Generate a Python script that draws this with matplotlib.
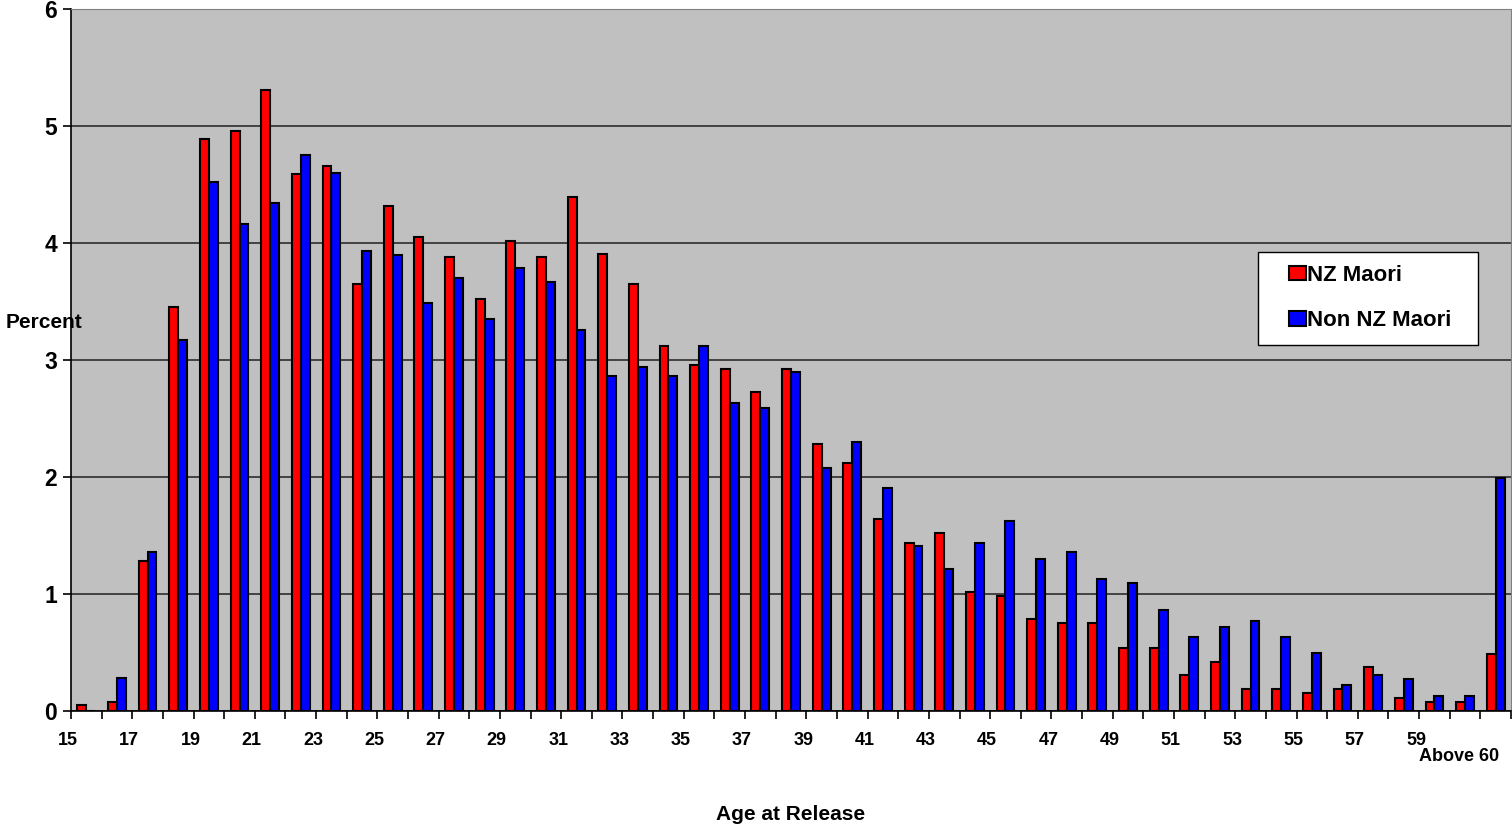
import matplotlib.pyplot as plt
from matplotlib.patches import Rectangle
import numpy as np

plt.rcParams['font.family'] = ['Liberation Sans', 'DejaVu Sans']
plt.rcParams['font.weight'] = 'bold'

# categorias: 15..60 y "Above 60"
categorias = [str(a) for a in range(15, 61)] + ['Above 60']

nz_maori = [0.05, 0.08, 1.28, 3.45, 4.89, 4.96, 5.31, 4.59, 4.66, 3.65,
            4.32, 4.05, 3.88, 3.52, 4.02, 3.88, 4.39, 3.91, 3.65, 3.12,
            2.96, 2.92, 2.73, 2.92, 2.28, 2.12, 1.64, 1.44, 1.52, 1.02,
            0.98, 0.79, 0.75, 0.75, 0.54, 0.54, 0.31, 0.42, 0.19, 0.19,
            0.15, 0.19, 0.38, 0.11, 0.08, 0.08, 0.49]
non_nz_maori = [0.0, 0.28, 1.36, 3.17, 4.52, 4.16, 4.34, 4.75, 4.60, 3.93,
                3.90, 3.49, 3.70, 3.35, 3.79, 3.67, 3.26, 2.86, 2.94, 2.86,
                3.12, 2.63, 2.59, 2.90, 2.08, 2.30, 1.91, 1.41, 1.21, 1.44,
                1.62, 1.30, 1.36, 1.13, 1.09, 0.86, 0.63, 0.72, 0.77, 0.63,
                0.50, 0.22, 0.31, 0.27, 0.13, 0.13, 1.99]

x = np.arange(len(categorias))
w = 0.29

fig = plt.figure(figsize=(15.12, 8.27), dpi=100)
ax = fig.add_axes([71 / 1512, 1 - 711 / 827, 1440 / 1512, 702 / 827])
ax.set_facecolor('#C0C0C0')

ax.bar(x - w / 2, nz_maori, width=w, color='#FF0000', edgecolor='black',
       linewidth=1.5, label='NZ Maori', zorder=3)
ax.bar(x + w / 2, non_nz_maori, width=w, color='#0000FF', edgecolor='black',
       linewidth=1.5, label='Non NZ Maori', zorder=3)

ax.set_xlim(-0.5, len(categorias) - 0.5)
ax.set_ylim(0, 6)
ax.set_yticks(range(0, 7))
ax.yaxis.grid(True, color='#202020', linewidth=1.1, zorder=1)
ax.tick_params(axis='y', labelsize=16.5, length=6, width=1.2, direction='out', pad=4)

# marcas en los limites de categoria, etiquetas aparte
ax.set_xticks(np.arange(len(categorias) + 1) - 0.5)
ax.set_xticklabels([])
ax.tick_params(axis='x', length=6, width=1.2, direction='out')
for i, lab in enumerate(categorias):
    if i % 2 == 0 and i < len(categorias) - 1:
        ax.text(i - 0.6, -0.18, lab, ha='center', va='top', fontsize=13,
                fontweight='bold')
ax.text(len(categorias) - 2.2, -0.32, categorias[-1], ha='center', va='top',
        fontsize=13, fontweight='bold')

for s in ['top', 'right']:
    ax.spines[s].set_color('#808080')
for s in ['left', 'bottom']:
    ax.spines[s].set_color('black')
    ax.spines[s].set_linewidth(1.2)

fig.text(6 / 1512, 1 - 322 / 827, 'Percent', ha='left', va='center',
         fontsize=15, fontweight='bold')
fig.text(791 / 1512, 1 - 814 / 827, 'Age at Release', ha='center',
         va='center', fontsize=15, fontweight='bold')

# caja de la leyenda
fig.patches.append(Rectangle((1258 / 1512, 1 - 345 / 827), 220 / 1512, 93 / 827,
                             transform=fig.transFigure, facecolor='white',
                             edgecolor='black', linewidth=1.0, zorder=5))
leg = fig.legend(loc='center', bbox_to_anchor=(1370 / 1512, 1 - 298 / 827),
                 fontsize=16, frameon=False, handlelength=0.75,
                 handleheight=0.65, handletextpad=0.05, borderpad=0,
                 labelspacing=1.1, borderaxespad=0)
leg.set_zorder(6)

fig.savefig('out.png', dpi=100)
